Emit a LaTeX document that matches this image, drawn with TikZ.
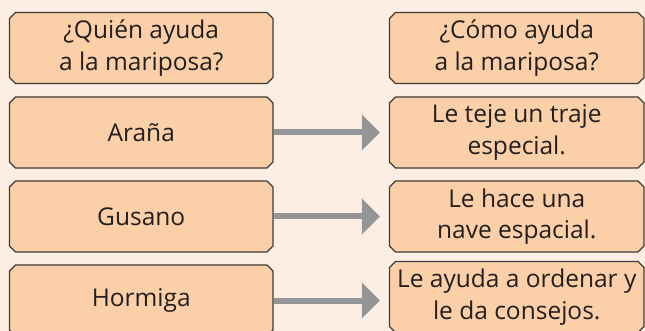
\documentclass[tikz,border=0pt]{standalone}
\usepackage{fontspec}
\setmainfont{Open Sans}
\usetikzlibrary{shapes.misc,arrows.meta}
\definecolor{bgpeach}{HTML}{FDEEE3}
\definecolor{boxfill}{HTML}{FBCFA7}
\definecolor{boxline}{HTML}{3C3C3C}
\definecolor{arrowgray}{HTML}{939598}
\definecolor{txt}{HTML}{231F20}
\tikzset{
  cell/.style={chamfered rectangle, chamfered rectangle xsep=3pt, chamfered rectangle ysep=3pt,
    draw=boxline, line width=1.1pt, fill=boxfill, inner sep=0pt, minimum height=71pt,
    align=center, text=txt, font=\fontsize{24.5}{31.5}\selectfont},
  leftcell/.style={cell, minimum width=263.5pt},
  rightcell/.style={cell, minimum width=254.5pt},
  link/.style={draw=arrowgray, line width=6pt, -{Triangle[length=18pt,width=35pt]}, shorten >=9pt}
}
\begin{document}
\begin{tikzpicture}[x=1pt,y=-1pt]
\fill[bgpeach] (0,0) rectangle (645,331);
\useasboundingbox (0,0) rectangle (645,331);
\clip (0,0) rectangle (645,331);
\node[leftcell] (q1) at (141.25,48) {¿Quién ayuda\\a la mariposa?};
\node[leftcell] (a1) at (141.25,132.5) {Araña};
\node[leftcell] (a2) at (141.25,216.5) {Gusano};
\node[leftcell] (a3) at (141.25,300.5) {Hormiga};
\node[rightcell] (q2) at (516.75,48) {¿Cómo ayuda\\a la mariposa?};
\node[rightcell] (b1) at (516.75,132.5) {Le teje un traje\\especial.};
\node[rightcell] (b2) at (516.75,216.5) {Le hace una\\nave espacial.};
\node[rightcell] (b3) at (516.75,297) {Le ayuda a ordenar y\\le da consejos.};
\draw[link] (a1.east) -- (b1.west |- a1.east);
\draw[link] (a2.east) -- (b2.west |- a2.east);
\draw[link] (a3.east) -- (b3.west |- a3.east);
\end{tikzpicture}
\end{document}
